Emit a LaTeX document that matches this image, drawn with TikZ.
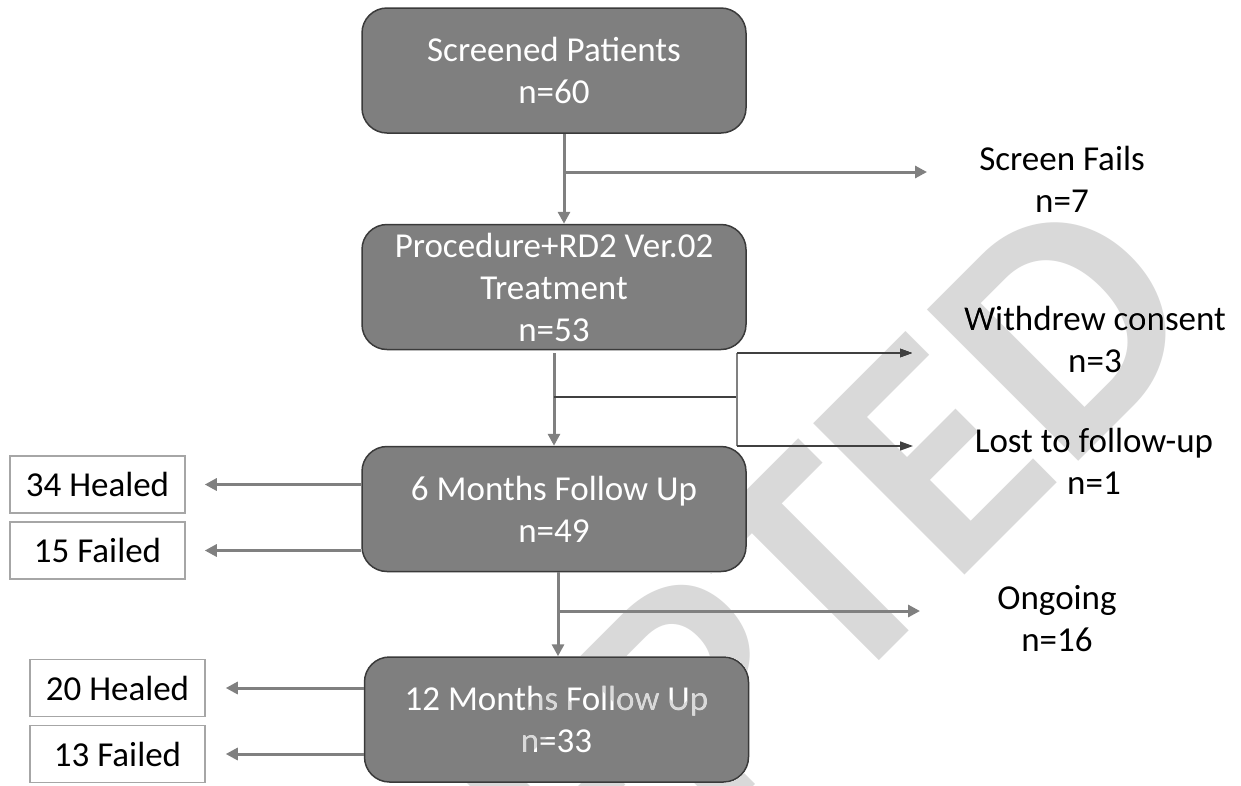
\documentclass[tikz,border=0pt]{standalone}
\usepackage{fontspec}
\setmainfont{Carlito}
\usetikzlibrary{arrows.meta}
\definecolor{boxgray}{HTML}{7F7F7F}
\definecolor{edgegray}{HTML}{3A3A3A}
\definecolor{linegray}{HTML}{808080}
\definecolor{darkline}{HTML}{404040}
\definecolor{lightedge}{HTML}{A6A6A6}
\definecolor{wmgray}{HTML}{D9D9D9}
\begin{document}
\begin{tikzpicture}[x=1pt,y=-1pt,
  stage/.style={draw=edgegray, line width=1.5pt, fill=boxgray, rounded corners=25pt,
    minimum width=384pt, minimum height=125pt, inner sep=0pt, text=white, align=center,
    font=\fontsize{35}{42}\selectfont},
  outcome/.style={draw=lightedge, line width=1.5pt, fill=white, minimum width=175pt,
    minimum height=57pt, inner sep=0pt, font=\fontsize{35}{42}\selectfont},
  sidelabel/.style={align=center, inner sep=0pt, font=\fontsize{35}{42}\selectfont},
  flow/.style={draw=linegray, line width=3pt, -{Triangle[length=12pt,width=12pt]}},
  thinflow/.style={draw=darkline, line width=1.5pt, -{Triangle[length=13pt,width=9pt]}},
  watermark/.style={text=wmgray, inner sep=0pt, font=\fontsize{330}{330}\selectfont\bfseries}
]
\useasboundingbox (0,0) rectangle (1241,785);
\fill[white] (0,0) rectangle (1241,785);

% main stages
\node[stage] (s1) at (554,70.5) {Screened Patients\\n=60};
\node[stage] (s2) at (554,287) {Procedure+RD2 Ver.02\\Treatment\\n=53};
\node[stage] (s3) at (554,509) {6 Months Follow Up\\n=49};
\node[stage] (s4) at (556.5,719.5) {12 Months Follow Up\\n=33};

% outcome boxes
\node[outcome] (h1) at (97.5,484.5) {34 Healed};
\node[outcome] (f1) at (97.5,550.5) {15 Failed};
\node[outcome] (h2) at (117.5,688) {20 Healed};
\node[outcome] (f2) at (117.5,754) {13 Failed};

% side labels
\node[sidelabel] (sf) at (1062,179) {Screen Fails\\n=7};
\node[sidelabel] (wc) at (1095,339) {Withdrew consent\\n=3};
\node[sidelabel] (lf) at (1094,461) {Lost to follow-up\\n=1};
\node[sidelabel] (og) at (1057,619) {Ongoing\\n=16};

% junctions and free ends
\coordinate (j1) at (564,172);
\coordinate (t1) at (927,172);
\coordinate (j2) at (554,397);
\coordinate (k2) at (737,397);
\coordinate (k2a) at (737,353);
\coordinate (k2b) at (737,446);
\coordinate (t2a) at (913,353);
\coordinate (t2b) at (913,446);
\coordinate (j3) at (558,611);
\coordinate (t3) at (920,611);

% connectors
\draw[flow] ([xshift=10pt]s1.south) -- ([xshift=10pt]s2.north);
\draw[flow] (j1) -- (t1);
\draw[flow] ([yshift=-3pt]s2.south) -- (s3.north);
\draw[darkline, line width=2pt] (j2) -- (k2);
\draw[linegray, line width=1.2pt] (k2a) -- (k2b);
\draw[thinflow] (k2a) -- (t2a);
\draw[thinflow] (k2b) -- (t2b);
\draw[flow] ([xshift=4pt]s3.south) -- ([xshift=1.5pt]s4.north);
\draw[flow] (j3) -- (t3);

\draw[flow] (s3.west |- h1.east) -- ([xshift=19pt]h1.east);
\draw[flow] (s3.west |- f1.east) -- ([xshift=19pt]f1.east);
\draw[flow] (s4.west |- h2.east) -- ([xshift=20pt]h2.east);
\draw[flow] (s4.west |- f2.east) -- ([xshift=20pt]f2.east);

% watermark
\begin{scope}[blend mode=darken]
\clip (0,0) rectangle (1241,785);
\node[watermark, rotate=45, anchor=base] (wm) at (713,827) {ACCEPTED};
\end{scope}
\end{tikzpicture}
\end{document}
